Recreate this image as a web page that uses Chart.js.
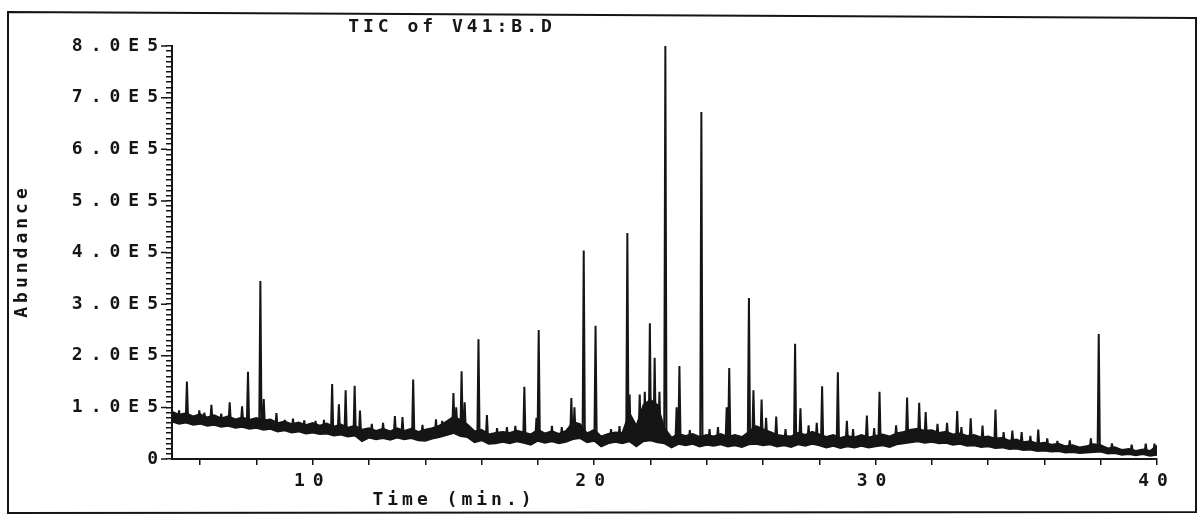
<!DOCTYPE html>
<html>
<head>
<meta charset="utf-8">
<script src="https://cdn.jsdelivr.net/npm/chart.js@4.4.1/dist/chart.umd.min.js"></script>
<style>
  html, body { margin: 0; padding: 0; background: #fff; }
</style>
</head>
<body>
<canvas id="tic" width="1202" height="518"></canvas>
<script>
// abundance values below are in units of 1E4 counts
const titleText = 'TIC of V41:B.D';
const xTitle = 'Time (min.)';
const yTitle = 'Abundance';

const xTickValues = [6, 8, 10, 12, 14, 16, 18, 20, 22, 24, 26, 28, 30, 32, 34, 36, 38, 40];
const xTickLabels = ['10', '20', '30', '40'];
const yTickLabels = ['0', '1.0E5', '2.0E5', '3.0E5', '4.0E5', '5.0E5', '6.0E5', '7.0E5', '8.0E5'];

// baseline band (noisy floor of the trace), one row of four per minute
const baseTime = [
  5, 5.25, 5.5, 5.75,   6, 6.25, 6.5, 6.75,   7, 7.25, 7.5, 7.75,   8, 8.25, 8.5, 8.75,
  9, 9.25, 9.5, 9.75,   10, 10.25, 10.5, 10.75, 11, 11.25, 11.5, 11.75, 12, 12.25, 12.5, 12.75,
  13, 13.25, 13.5, 13.75, 14, 14.25, 14.5, 14.75, 15, 15.25, 15.5, 15.75, 16, 16.25, 16.5, 16.75,
  17, 17.25, 17.5, 17.75, 18, 18.25, 18.5, 18.75, 19, 19.25, 19.5, 19.75, 20, 20.25, 20.5, 20.75,
  21, 21.25, 21.5, 21.75, 22, 22.25, 22.5, 22.75, 23, 23.25, 23.5, 23.75, 24, 24.25, 24.5, 24.75,
  25, 25.25, 25.5, 25.75, 26, 26.25, 26.5, 26.75, 27, 27.25, 27.5, 27.75, 28, 28.25, 28.5, 28.75,
  29, 29.25, 29.5, 29.75, 30, 30.25, 30.5, 30.75, 31, 31.25, 31.5, 31.75, 32, 32.25, 32.5, 32.75,
  33, 33.25, 33.5, 33.75, 34, 34.25, 34.5, 34.75, 35, 35.25, 35.5, 35.75, 36, 36.25, 36.5, 36.75,
  37, 37.25, 37.5, 37.75, 38, 38.25, 38.5, 38.75, 39, 39.25, 39.5, 39.75, 40
];
const baseLow = [
  7.2, 6.8, 7.0, 6.6,  6.8, 6.4, 6.6, 6.2,  6.4, 6.0, 6.2, 5.8,  6.0, 5.6, 5.8, 5.3,
  5.5, 5.1, 5.3, 4.9,  5.1, 4.8, 4.9, 4.5,  4.7, 4.3, 4.5, 3.4,  4.1, 3.8, 4.0, 3.7,
  4.1, 3.8, 4.0, 3.6,  3.5, 3.9, 4.2, 4.6,  5.0, 4.4, 4.2, 3.2,  3.6, 2.9, 3.0, 3.3,
  3.0, 3.4, 3.1, 2.7,  3.5, 3.1, 3.4, 3.0,  3.3, 3.8, 4.0, 3.2,  3.5, 2.4, 3.0, 3.3,
  3.0, 3.4, 2.4, 3.4,  3.6, 3.2, 3.0, 2.2,  2.9, 2.6, 2.9, 2.4,  2.7, 2.5, 2.8, 2.4,
  2.6, 2.3, 2.8, 2.9,  2.6, 2.8, 2.4, 2.6,  2.3, 2.8, 2.5, 2.9,  2.6, 2.2, 2.5, 2.1,
  2.4, 2.2, 2.5, 2.2,  2.4, 2.6, 2.3, 2.8,  3.0, 3.2, 3.4, 3.1,  3.3, 3.0, 3.1, 2.7,
  2.9, 2.5, 2.6, 2.3,  2.4, 2.1, 2.2, 1.9,  2.0, 1.7, 1.8, 1.5,  1.6, 1.4, 1.5, 1.2,
  1.3, 1.1, 1.2, 1.3,  1.4, 1.0, 1.1, 0.8,  0.9, 0.7, 0.9, 0.6,  0.8
];
const baseHigh = [
  9.2, 8.6, 8.9, 8.3,  8.7, 8.1, 8.5, 7.9,  8.3, 7.7, 8.1, 7.6,  8.0, 7.5, 7.7, 7.0,
  7.3, 6.8, 7.1, 6.6,  7.0, 6.5, 6.9, 6.3,  6.7, 6.1, 6.5, 5.7,  6.0, 5.5, 5.9, 5.4,
  6.0, 5.5, 5.9, 5.3,  5.7, 6.0, 6.5, 7.3,  8.2, 7.6, 6.7, 5.4,  5.7, 4.8, 5.1, 5.3,
  5.1, 5.5, 5.2, 4.8,  5.7, 5.0, 5.4, 4.9,  5.5, 7.2, 6.8, 5.0,  5.7, 4.4, 4.9, 5.2,
  5.1, 9.0, 6.5, 10.5, 11.5, 10.5, 6.0, 4.2, 4.9, 4.5, 4.9, 4.3,  4.7, 4.4, 4.9, 4.3,
  4.7, 4.3, 5.3, 6.4,  5.8, 5.3, 4.7, 4.5,  4.4, 5.1, 4.7, 5.3,  4.8, 4.3, 4.7, 4.1,
  4.5, 4.2, 4.7, 4.2,  4.5, 4.8, 4.4, 5.0,  5.3, 5.7, 5.9, 5.5,  5.6, 5.1, 5.3, 4.8,
  5.0, 4.5, 4.7, 4.2,  4.4, 4.0, 4.1, 3.6,  3.8, 3.3, 3.5, 3.0,  3.2, 2.8, 3.0, 2.5,
  2.7, 2.3, 2.5, 2.9,  2.7, 2.1, 2.3, 1.8,  2.0, 1.6, 1.9, 1.6,  2.6
];

// peaks: retention time, apex, level at the foot
const peakTime = [
  5.53, 5.97, 6.40, 7.05, 7.49, 7.70, 8.14, 8.26, 8.71, 9.01,
  10.69, 10.93, 11.17, 11.49, 11.68, 12.92, 13.19, 13.57, 14.38, 15.00,
  15.10, 15.29, 15.40, 15.89, 16.19, 17.52, 17.95, 18.03, 19.19, 19.30,
  19.63, 20.05, 21.18, 21.26, 21.62, 21.80, 21.98, 22.15, 22.32, 22.53,
  22.93, 23.03, 23.81, 24.71, 24.80, 25.50, 25.66, 25.95, 26.11, 26.47,
  27.14, 27.33, 27.62, 27.91, 28.10, 28.66, 28.98, 29.69, 30.14, 30.73,
  31.12, 31.55, 31.78, 32.54, 32.90, 33.38, 33.80, 34.26, 34.86, 35.19,
  35.78, 36.46, 37.65, 37.93, 39.91
];
const peakTop = [
  15.0, 9.4, 10.5, 11.0, 10.2, 16.9, 34.5, 11.6, 8.9, 7.6,
  14.5, 10.6, 13.3, 14.2, 9.4, 8.3, 8.1, 15.4, 7.7, 12.8,
  10.0, 17.0, 11.0, 23.2, 8.5, 14.0, 8.0, 25.0, 11.8, 10.0,
  40.4, 25.8, 43.8, 12.5, 12.5, 13.0, 26.3, 19.6, 13.0, 80.0,
  10.0, 18.0, 67.2, 10.0, 17.6, 31.2, 13.3, 11.5, 8.0, 8.2,
  22.3, 9.8, 6.5, 7.0, 14.1, 16.8, 7.4, 8.4, 13.0, 6.5,
  11.9, 10.9, 9.1, 7.0, 9.3, 7.9, 6.5, 9.6, 5.5, 5.2,
  5.7, 3.5, 4.0, 24.2, 3.0
];
const peakFoot = [
  7.8, 7.4, 7.2, 7.0, 6.9, 6.8, 6.7, 6.6, 6.2, 6.0,
  5.4, 5.3, 5.2, 5.0, 4.6, 4.6, 4.6, 4.6, 4.6, 6.0,
  6.0, 5.6, 5.2, 4.2, 4.0, 4.0, 4.0, 4.2, 4.5, 4.5,
  4.2, 4.2, 4.0, 4.0, 4.5, 4.5, 4.5, 4.5, 4.5, 4.0,
  3.6, 3.6, 3.5, 3.5, 3.5, 3.7, 3.8, 3.8, 3.7, 3.6,
  3.4, 3.5, 3.6, 3.6, 3.4, 3.3, 3.3, 3.3, 3.4, 3.7,
  4.0, 4.5, 4.4, 4.0, 3.8, 3.5, 3.3, 3.1, 2.8, 2.6,
  2.3, 2.1, 1.9, 1.9, 1.3
];

// small noise spikes riding on the band
const spikeTime = [
  5.25, 6.15, 6.75, 9.30, 9.70, 10.10, 10.40, 12.10, 12.50, 13.90,
  14.60, 16.55, 16.90, 17.20, 18.50, 18.85, 20.60, 20.90, 23.40, 24.10,
  24.40, 26.80, 29.20, 29.95, 32.20, 33.05, 34.55, 35.50, 36.10, 36.90,
  38.40, 39.10, 39.60
];
const spikeTop = [
  9.4, 9.0, 8.8, 7.8, 7.5, 7.4, 7.6, 6.8, 7.0, 6.6,
  7.4, 6.0, 6.2, 6.4, 6.4, 6.2, 5.8, 6.4, 5.6, 5.8,
  6.2, 5.8, 5.8, 6.0, 6.8, 6.2, 5.2, 4.5, 4.0, 3.6,
  3.0, 2.8, 3.0
];
const spikeFoot = [
  7.6, 7.3, 7.0, 5.9, 5.7, 5.6, 5.5, 4.8, 4.7, 4.5,
  5.0, 4.0, 4.0, 4.0, 4.0, 4.0, 3.8, 3.8, 3.5, 3.4,
  3.4, 3.4, 3.2, 3.2, 4.2, 3.6, 3.0, 2.4, 2.2, 1.9,
  1.6, 1.4, 1.3
];

const lowPts = baseTime.map((t, i) => ({ x: t, y: baseLow[i] }));
const highPts = baseTime.map((t, i) => ({ x: t, y: baseHigh[i] }));
const peakPts = [];
function addSpikes(times, tops, feet) {
  times.forEach((t, i) => {
    peakPts.push({ x: t - 0.04, y: feet[i] });
    peakPts.push({ x: t, y: tops[i] });
    peakPts.push({ x: t + 0.04, y: feet[i] });
    peakPts.push({ x: t + 0.04, y: null });
  });
}
addSpikes(peakTime, peakTop, peakFoot);
addSpikes(spikeTime, spikeTop, spikeFoot);

const ink = '#151515';
const monoFont = { family: '"DejaVu Sans Mono", monospace', size: 18, weight: 'bold' };

// plotter look: wide letter spacing, titles placed off-centre, outer frame
const plotterText = {
  id: 'plotterText',
  beforeLayout(chart) { chart.ctx.letterSpacing = '8px'; },
  beforeDraw(chart) { chart.ctx.letterSpacing = '8px'; },
  afterDraw(chart) {
    const ctx = chart.ctx;
    const ys = chart.scales.y;
    ctx.save();
    ctx.strokeStyle = ink;
    ctx.lineWidth = 2;
    ctx.beginPath();
    ctx.moveTo(8, 12);
    ctx.lineTo(1196, 18);
    ctx.lineTo(1196, 512);
    ctx.lineTo(8, 513);
    ctx.closePath();
    ctx.stroke();

    // longer marks at the labelled abundance ticks
    ctx.lineWidth = 1.5;
    ctx.beginPath();
    for (let v = 0; v <= 80; v += 10) {
      const py = ys.getPixelForValue(v);
      ctx.moveTo(161, py);
      ctx.lineTo(167, py);
    }
    ctx.stroke();

    ctx.fillStyle = ink;
    ctx.font = 'bold 18px "DejaVu Sans Mono", monospace';
    ctx.textAlign = 'center';
    ctx.textBaseline = 'middle';
    ctx.letterSpacing = '4px';
    ctx.fillText(titleText, 452, 27);
    ctx.fillText(xTitle, 454, 500);
    ctx.translate(22, 251);
    ctx.rotate(-Math.PI / 2);
    ctx.fillText(yTitle, 0, 0);
    ctx.restore();
  }
};

new Chart(document.getElementById('tic'), {
  type: 'line',
  data: {
    datasets: [
      { data: lowPts, borderColor: ink, borderWidth: 1.5, pointRadius: 0, fill: false },
      { data: highPts, borderColor: ink, borderWidth: 1.5, pointRadius: 0, fill: '-1', backgroundColor: ink },
      { data: peakPts, borderColor: ink, borderWidth: 2, pointRadius: 0, spanGaps: false,
        fill: false, borderJoinStyle: 'bevel' }
    ]
  },
  options: {
    responsive: false,
    animation: false,
    layout: { padding: { left: 0, right: 45, top: 46, bottom: 0 } },
    plugins: { legend: { display: false }, tooltip: { enabled: false } },
    scales: {
      x: {
        type: 'linear',
        min: 5,
        max: 40,
        afterBuildTicks: s => { s.ticks = xTickValues.map(v => ({ value: v })); },
        afterFit: s => { s.height = 59; },
        ticks: {
          autoSkip: false,
          maxRotation: 0,
          padding: 6,
          color: ink,
          font: monoFont,
          callback: v => (xTickLabels.includes(String(v)) ? String(v) : '')
        },
        grid: { drawOnChartArea: false, drawTicks: true, tickLength: 6, color: ink, lineWidth: 1.5 },
        border: { color: ink, width: 2 }
      },
      y: {
        min: 0,
        max: 80,
        afterBuildTicks: s => {
          const t = [];
          for (let v = 0; v <= 80; v++) t.push({ value: v });
          s.ticks = t;
        },
        afterFit: s => { s.width = 172; },
        ticks: {
          autoSkip: false,
          padding: 0,
          color: ink,
          font: monoFont,
          callback: v => (v % 10 === 0 ? yTickLabels[v / 10] : '')
        },
        grid: { drawOnChartArea: false, drawTicks: true, tickLength: 6, color: ink, lineWidth: 1.5 },
        border: { color: ink, width: 2 }
      }
    }
  },
  plugins: [plotterText]
});
</script>
</body>
</html>
